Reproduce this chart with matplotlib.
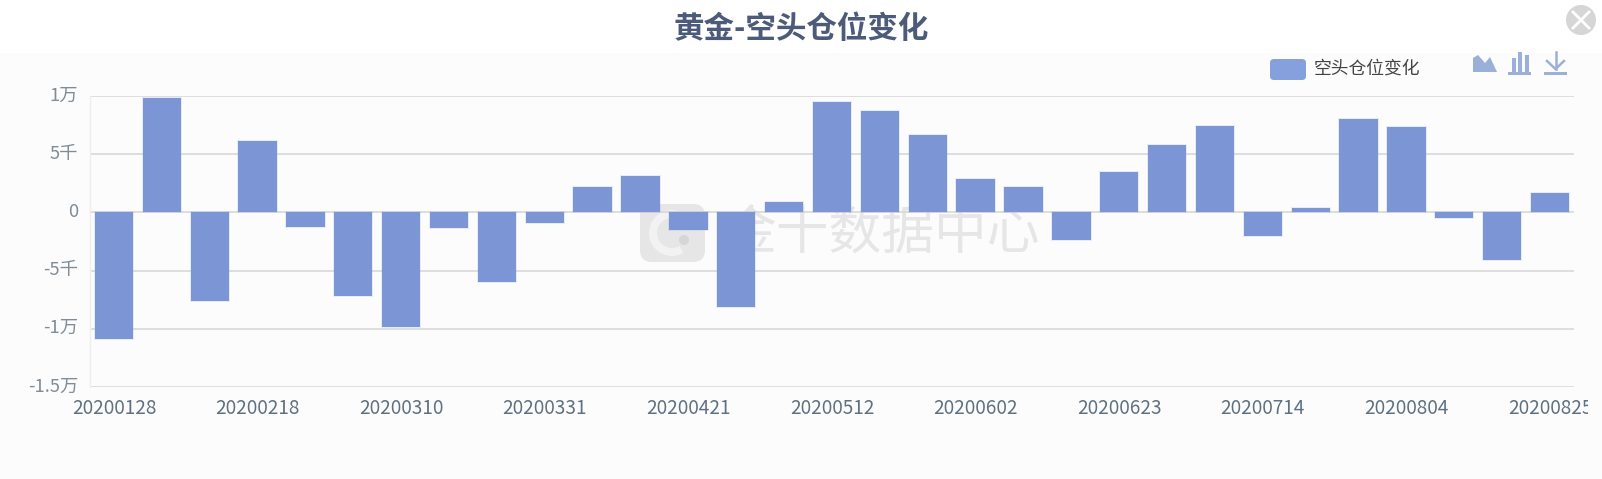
import matplotlib
matplotlib.use('Agg')
import matplotlib.pyplot as plt
from matplotlib.patches import Circle, FancyBboxPatch, Polygon, Rectangle, Wedge
from matplotlib.transforms import ScaledTranslation

plt.rcParams['font.family'] = ['Noto Sans CJK SC', 'DejaVu Sans']

W, H = 1602, 479

dates = ['20200128', '20200204', '20200211', '20200218', '20200225', '20200303',
         '20200310', '20200317', '20200324', '20200331', '20200407', '20200414',
         '20200421', '20200428', '20200505', '20200512', '20200519', '20200526',
         '20200602', '20200609', '20200616', '20200623', '20200630', '20200707',
         '20200714', '20200721', '20200728', '20200804', '20200811', '20200818',
         '20200825']
short_change = [-10885, 9820, -7600, 6100, -1250, -7170, -9820, -1300, -6000, -950,
                2200, 3100, -1500, -8150, 900, 9450, 8750, 6640, 2900, 2200,
                -2400, 3450, 5750, 7430, -2000, 350, 8050, 7350, -450, -4070, 1680]
y_ticks = [10000, 5000, 0, -5000, -10000, -15000]
y_labels = ['1万', '5千', '0', '-5千', '-1万', '-1.5万']

title = '黄金-空头仓位变化'
series_name = '空头仓位变化'
bar_color = '#7b95d5'
panel_color = '#fcfcfd'

fig = plt.figure(figsize=(W / 100, H / 100), dpi=100, facecolor='white')

# page layer in pixel coordinates: panel, watermark, title, legend, icons
bg = fig.add_axes([0, 0, 1, 1], zorder=0)
bg.set_xlim(0, W)
bg.set_ylim(H, 0)
bg.axis('off')
bg.add_patch(Rectangle((0, 53), W, H - 53, color=panel_color, lw=0))

# watermark
bg.add_patch(FancyBboxPatch((650, 214), 45, 38, boxstyle='round,pad=10,rounding_size=12',
                            fc='#e6e6e6', ec='none'))
bg.add_patch(Wedge((672, 233), 23, 60, 290, width=8, fc='#f2f2f2', ec='none'))
bg.add_patch(Circle((684, 240), 5, fc='#d6d6d6', ec='none'))
bg.text(882, 233, '金十数据中心', fontsize=38, color='#e6e6e6', ha='center', va='center')

ax = fig.add_axes([90 / W, 1 - 387 / H, (1574 - 90) / W, (387 - 96) / H], zorder=1)
ax.patch.set_alpha(0)

x = list(range(len(dates)))
# soft glow round the bars
ax.bar(x, short_change, width=0.8, fc='none', ec=bar_color, lw=1.4, alpha=0.16, zorder=3)
ax.bar(x, short_change, width=0.8, color=bar_color, lw=0, zorder=4)

ax.set_xlim(-0.5, len(dates) - 0.5)
ax.set_ylim(-15000, 10000)
ax.set_yticks(y_ticks)
ax.set_yticklabels(y_labels, fontsize=13.2, color='#808c96')
ax.set_xticks(x[::3])
ax.set_xticklabels(dates[::3], fontsize=13.7, color='#5f7080')
ax.tick_params(axis='y', length=0, pad=8.6)
ax.tick_params(axis='x', length=0, pad=8.2)
ax.grid(axis='y', color='#d8d8d8', lw=1.2, zorder=1)
ax.set_axisbelow(True)
for side in ['top', 'right', 'bottom']:
    ax.spines[side].set_visible(False)
ax.spines['left'].set_color('#eeeeee')
ax.spines['left'].set_linewidth(1)

up = ScaledTranslation(0, 2.5 / 100, fig.dpi_scale_trans)
for lab in ax.get_yticklabels():
    lab.set_transform(lab.get_transform() + up)

# top layer
top = fig.add_axes([0, 0, 1, 1], zorder=2)
top.set_xlim(0, W)
top.set_ylim(H, 0)
top.axis('off')

# last date label is cut off at the edge of the canvas
top.add_patch(Rectangle((1588, 392), W - 1588, 30, fc=panel_color, ec='none'))

top.text(801, 29, title, fontsize=22, fontweight='bold', color='#4c5b7a',
         ha='center', va='center')

# close button
top.add_patch(Circle((1581, 20), 15, fc='#d6d6d6', ec='none'))
top.plot([1573, 1589], [12, 28], color='white', lw=2)
top.plot([1573, 1589], [28, 12], color='white', lw=2)

# legend
top.add_patch(FancyBboxPatch((1273, 62), 30, 15, boxstyle='round,pad=3,rounding_size=4',
                             fc='#85a0dc', ec='none'))
top.text(1367, 69, series_name, fontsize=12.8, color='#444444', ha='center', va='center')

# toolbox icons
icon = '#9bb0d8'
top.add_patch(Polygon([(1473, 72), (1473, 58), (1478, 55), (1485, 63), (1490, 57), (1497, 72)],
                      fc=icon, ec='none'))
top.add_patch(Rectangle((1508, 71.5), 23, 3, fc=icon, ec='none'))
top.add_patch(Rectangle((1512, 58), 4, 14, fc=icon, ec='none'))
top.add_patch(Rectangle((1518, 52), 4, 20, fc=icon, ec='none'))
top.add_patch(Rectangle((1525, 55), 4, 17, fc=icon, ec='none'))
top.add_patch(Rectangle((1544, 71.5), 23, 3, fc=icon, ec='none'))
top.plot([1555.5, 1555.5], [52, 69], color=icon, lw=1.8)
top.plot([1547, 1555.5, 1564], [61, 69, 61], color=icon, lw=1.8)

fig.savefig('out.png', dpi=100, facecolor='white')
